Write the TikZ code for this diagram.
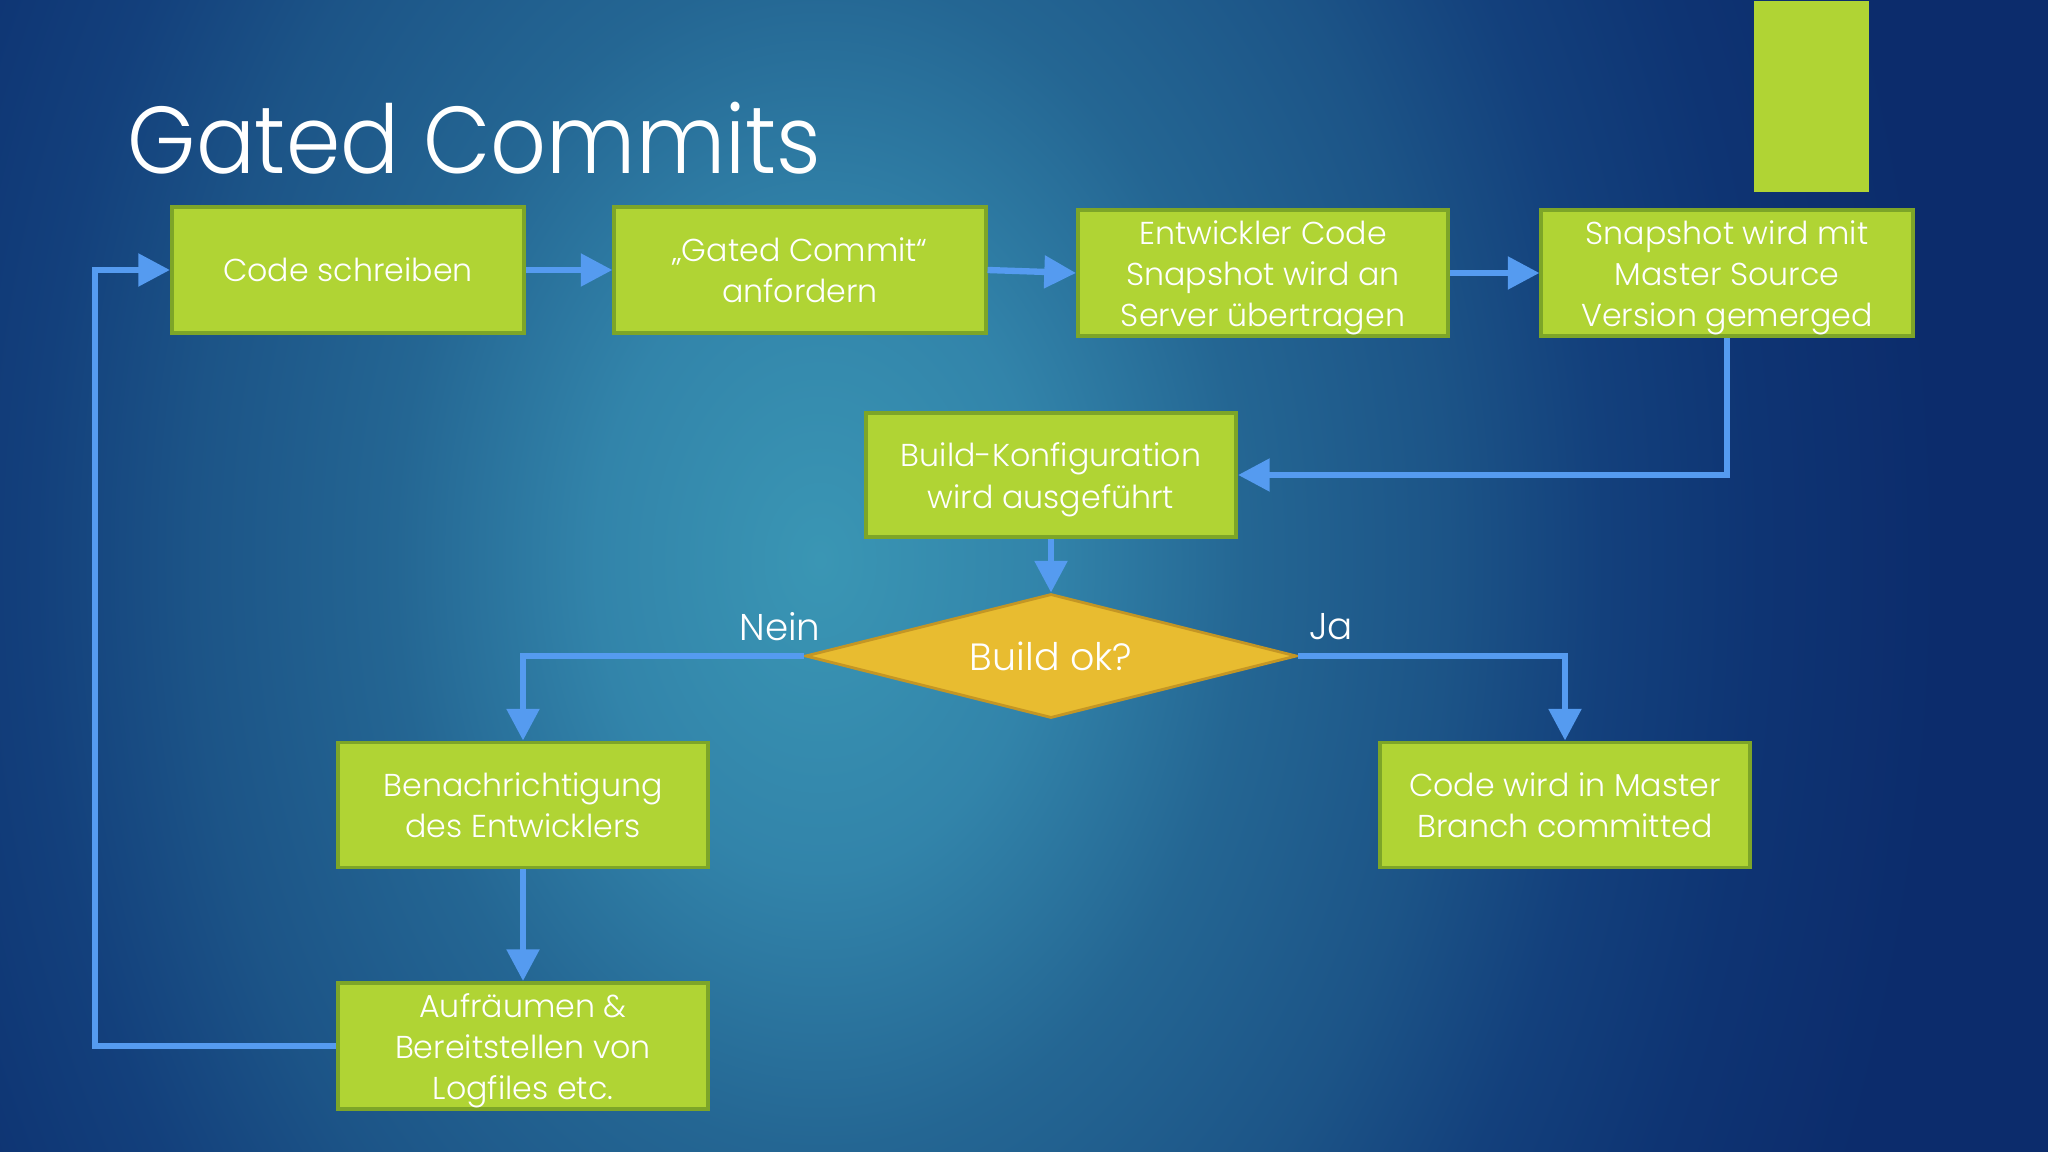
\documentclass[tikz,border=0pt]{standalone}
\usepackage{fontspec}
\IfFontExistsTF{Poppins Light}{\setmainfont{Poppins Light}\newfontfamily\titlefont[FakeStretch=0.92]{Poppins Light}}{\setmainfont{Poppins}\newfontfamily\titlefont[FakeStretch=0.92]{Poppins}}
\usetikzlibrary{arrows.meta,shapes.geometric}
\definecolor{boxgreen}{RGB}{176,212,52}
\definecolor{boxedge}{RGB}{125,165,40}
\definecolor{diagold}{RGB}{232,188,48}
\definecolor{diaedge}{RGB}{196,150,36}
\definecolor{lineblue}{RGB}{85,155,240}
\definecolor{bgA}{RGB}{58,150,180}
\definecolor{bgB}{RGB}{50,132,170}
\definecolor{bgC}{RGB}{36,102,147}
\definecolor{bgD}{RGB}{28,84,135}
\definecolor{bgE}{RGB}{19,64,124}
\definecolor{bgF}{RGB}{14,52,115}
\definecolor{bgG}{RGB}{12,44,108}
\pgfdeclareradialshading{bgshade}{\pgfpoint{0bp}{0bp}}{color(0bp)=(bgA); color(5bp)=(bgB); color(9.5bp)=(bgC); color(14bp)=(bgD); color(17.5bp)=(bgE); color(21bp)=(bgF); color(25bp)=(bgG); color(50bp)=(bgG)}
\newcommand\tallstrut{\rule{0pt}{9.5pt}}
\tikzset{
  flowbox/.style={draw=boxedge, line width=1.1pt, fill=boxgreen, text=white, align=center,
    minimum width=3.7cm, minimum height=1.26cm, inner xsep=2pt, inner ysep=0pt, font=\fontsize{9}{11.7}\selectfont},
  decision/.style={diamond, aspect=3.96, draw=diaedge, line width=0.8pt, fill=diagold, text=white,
    minimum width=4.91cm, minimum height=1.24cm, inner sep=0pt, font=\fontsize{10.8}{13}\selectfont},
  conn/.style={draw=lineblue, line width=1.8pt, -{Triangle[length=9pt,width=9pt]}},
  lbl/.style={text=white, font=\fontsize{10.6}{12}\selectfont, inner sep=0pt}
}
\begin{document}
\begin{tikzpicture}[x=0.01cm, y=-0.01cm]
\useasboundingbox (0,0) rectangle (2048,1152);
\fill[bgG] (0,0) rectangle (2048,1152);
\begin{scope}
  \clip (0,0) rectangle (2048,1152);
  \shade[shading=bgshade] (820,560) ellipse [x radius=11.2cm, y radius=15.5cm];
\end{scope}

\node[fill=boxgreen, minimum width=1.15cm, minimum height=1.91cm, inner sep=0pt, anchor=north west] (bar) at (1753,0) {};

\node[anchor=base west, text=white, font=\titlefont\fontsize{27}{30}\selectfont, inner sep=0pt] (title) at (127,174) {Gated Commits};

\node[flowbox, minimum width=3.52cm] (b1) at (348,270) {Code schreiben};
\node[flowbox, minimum width=3.71cm] (b2) at (800,270) {„Gated Commit“\\anfordern};
\node[flowbox] (b3) at (1263,273) {\tallstrut Entwickler Code\\Snapshot wird an\\Server übertragen};
\node[flowbox, minimum width=3.71cm] (b4) at (1727,273) {\tallstrut Snapshot wird mit\\Master Source\\Version gemerged};
\node[flowbox, minimum height=1.24cm] (b6) at (1051,475) {\tallstrut Build-Konfiguration\\wird ausgeführt};
\node[decision] (dia) at (1051,656) {Build ok?};
\node[flowbox, minimum height=1.25cm] (b7) at (523,805) {Benachrichtigung\\des Entwicklers};
\node[flowbox] (b9) at (523,1046) {\tallstrut Aufräumen \&\\Bereitstellen von\\Logfiles etc.};
\node[flowbox, minimum height=1.25cm] (b8) at (1565,805) {Code wird in Master\\Branch committed};

\node[lbl] (nein) at (780,627) {Nein};
\node[lbl] (ja) at (1331,627) {Ja};

\coordinate (lx) at (95,0);

\draw[conn] (b1.east) -- (b2.west);
\draw[conn] (b2.east) -- (b3.west);
\draw[conn] (b3.east) -- (b4.west);
\draw[conn] (b4.south) |- (b6.east);
\draw[conn] (b6.south) -- (dia.north);
\draw[conn] (dia.west) -| (b7.north);
\draw[conn] (dia.east) -| (b8.north);
\draw[conn] (b7.south) -- (b9.north);
\draw[conn] (b9.west) -- (b9.west -| lx) |- (b1.west);
\end{tikzpicture}
\end{document}
